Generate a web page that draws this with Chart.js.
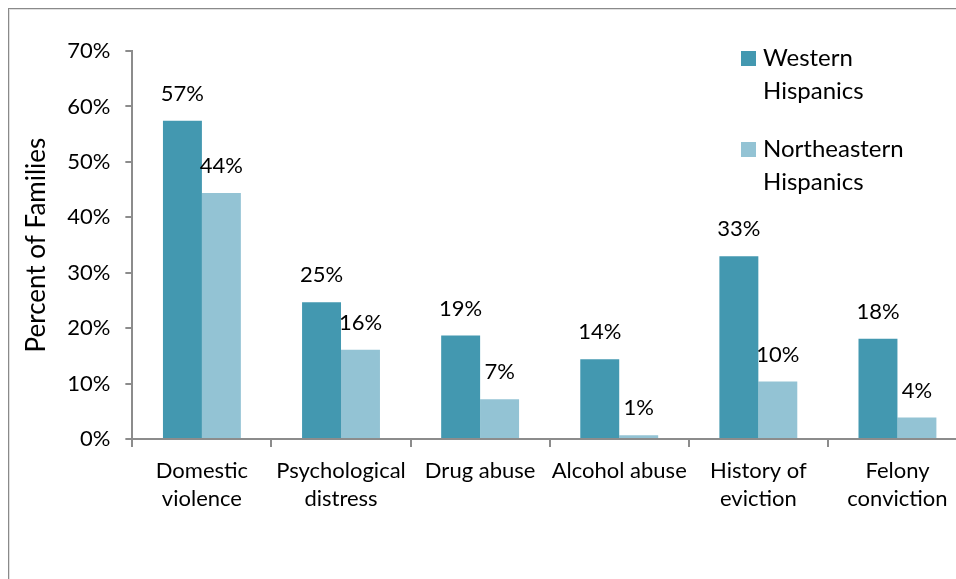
<!DOCTYPE html>
<html>
<head>
<meta charset="utf-8">
<script src="https://cdn.jsdelivr.net/npm/chart.js@4.4.1/dist/chart.umd.min.js"></script>
<style>
html,body{margin:0;padding:0;overflow:hidden;background:#fff;width:956px;height:579px;}
#frame{position:absolute;left:8px;top:8px;width:1000px;height:700px;border-left:1px solid #8a8a8a;border-top:1px solid #8a8a8a;box-shadow:inset 1px 1px 0 #e0e0e0;}
#wrap{position:absolute;left:0;top:0;width:980px;height:579px;}
</style>
</head>
<body>
<div id="frame"></div>
<div id="wrap"><canvas id="c" width="980" height="579"></canvas></div>
<script>
const categories = [["Domestic","violence"],["Psychological","distress"],"Drug abuse","Alcohol abuse",["History of","eviction"],["Felony","conviction"]];
const seriesNames = [["Western","Hispanics"],["Northeastern","Hispanics"]];
const western = [57.4, 24.7, 18.7, 14.4, 33.0, 18.1];
const northeastern = [44.4, 16.1, 7.2, 0.7, 10.4, 3.9];
const yTicks = [0,10,20,30,40,50,60,70];
const colors = ["#4398B0","#93C3D4"];
const FONT = "Lato, 'Open Sans', sans-serif";

const labelPlugin = {
  id:'barLabels',
  afterDatasetsDraw(chart){
    const ctx = chart.ctx;
    ctx.save();
    ctx.font = "22px " + FONT;
    ctx.fillStyle = "#000";
    ctx.textAlign = "center";
    ctx.textBaseline = "middle";
    chart.data.datasets.forEach((ds,i)=>{
      const meta = chart.getDatasetMeta(i);
      meta.data.forEach((bar,j)=>{
        ctx.fillText(Math.round(ds.data[j]) + "%", bar.x, bar.y - 27);
      });
    });
    ctx.restore();
  }
};

const legendPlugin = {
  id:'customLegend',
  afterDraw(chart){
    const ctx = chart.ctx;
    ctx.save();
    ctx.font = "24px " + FONT;
    ctx.textAlign = "left";
    ctx.textBaseline = "middle";
    chart.data.datasets.forEach((ds,i)=>{
      const y0 = 58.5 + i*91;
      ctx.fillStyle = ds.backgroundColor;
      ctx.fillRect(741, y0-7.5, 15, 15);
      ctx.fillStyle = "#000";
      ds.label.forEach((line,k)=>{
        ctx.fillText(line, 763, y0 + k*33);
      });
    });
    ctx.restore();
  }
};

new Chart(document.getElementById('c'), {
  type:'bar',
  data:{
    labels: categories,
    datasets:[
      {label: seriesNames[0], data: western, backgroundColor: colors[0], categoryPercentage:0.56, barPercentage:1.0},
      {label: seriesNames[1], data: northeastern, backgroundColor: colors[1], categoryPercentage:0.56, barPercentage:1.0}
    ]
  },
  plugins:[labelPlugin, legendPlugin],
  options:{
    responsive:false,
    animation:false,
    layout:{padding:{left:21,right:13,top:51,bottom:56}},
    plugins:{legend:{display:false},tooltip:{enabled:false}},
    scales:{
      x:{
        offset:true,
        grid:{display:true,drawOnChartArea:false,offset:true,tickLength:8,color:"#8c8c8c",lineWidth:2},
        border:{display:true,color:"#8c8c8c",width:2},
        ticks:{font:{family:FONT,size:22,lineHeight:1.27},color:"#000",maxRotation:0,autoSkip:false,padding:10}
      },
      y:{
        min:0,max:70,
        afterBuildTicks(scale){ scale.ticks = yTicks.map(v=>({value:v})); },
        grid:{display:true,drawOnChartArea:false,tickLength:7,color:"#8c8c8c",lineWidth:2},
        border:{display:true,color:"#8c8c8c",width:2},
        ticks:{font:{family:FONT,size:22},color:"#000",padding:15,callback:v=>v+"%"},
        title:{display:true,text:"Percent of Families",font:{family:FONT,size:26},color:"#000",padding:{top:0,bottom:0}}
      }
    }
  }
});
</script>
</body>
</html>
